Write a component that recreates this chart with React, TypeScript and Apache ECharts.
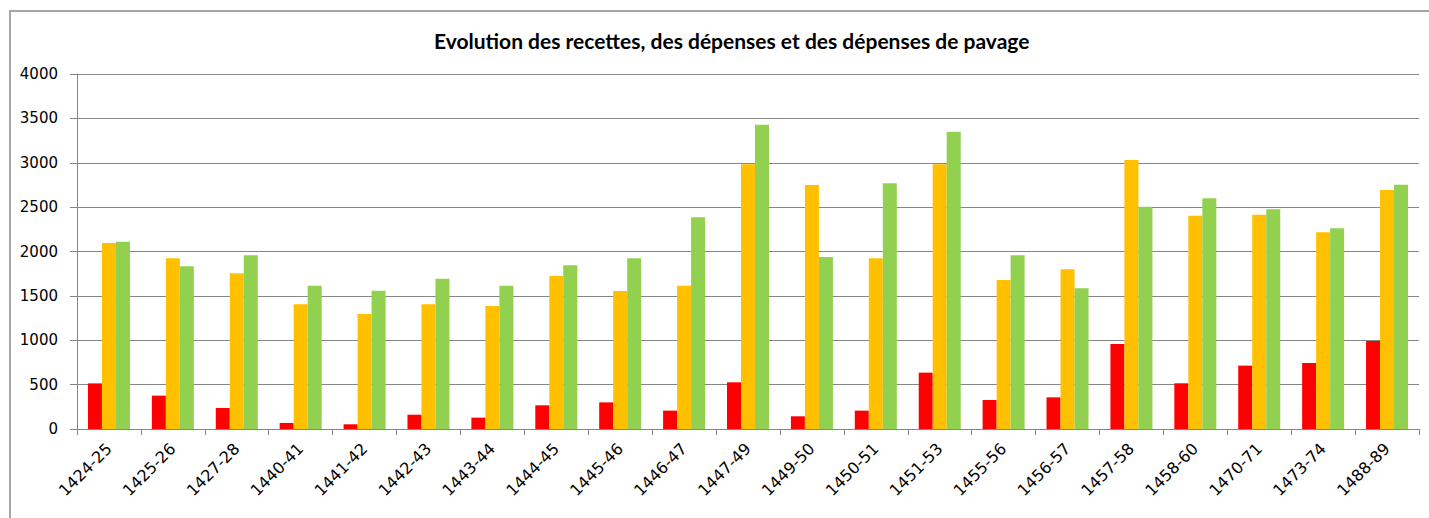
import React, { useEffect, useRef } from "react";
import * as echarts from "echarts";

const categories = [
  "1424-25", "1425-26", "1427-28", "1440-41", "1441-42", "1442-43", "1443-44",
  "1444-45", "1445-46", "1446-47", "1447-49", "1449-50", "1450-51", "1451-53",
  "1455-56", "1456-57", "1457-58", "1458-60", "1470-71", "1473-74", "1488-89",
];
const pavage = [514, 376, 237, 68, 53, 161, 128, 267, 300, 207, 526, 143, 207, 635, 327, 357, 958, 515, 714, 744, 992];
const recettes = [2096, 1923, 1754, 1405, 1296, 1405, 1386, 1724, 1555, 1615, 2982, 2749, 1923, 2982, 1679, 1799, 3031, 2404, 2415, 2216, 2693];
const depenses = [2111, 1833, 1957, 1615, 1559, 1694, 1615, 1844, 1923, 2385, 3429, 1938, 2768, 3350, 1957, 1585, 2505, 2599, 2475, 2261, 2753];
const yTicks = { min: 0, max: 4000, interval: 500 };
const title = "Evolution des recettes, des dépenses et des dépenses de pavage";

export default function App() {
  const ref = useRef<HTMLDivElement>(null);
  useEffect(() => {
    if (!ref.current) return;
    const chart = echarts.init(ref.current, null, { renderer: "svg" });
    const bar = (name: string, data: number[], color: string) => ({
      name,
      type: "bar",
      data,
      barWidth: 14,
      barGap: "0%",
      itemStyle: { color },
    });
    chart.setOption({
      animation: false,
      backgroundColor: "#ffffff",
      title: {
        text: title,
        left: 429,
        top: 25,
        textStyle: { fontFamily: "Lato", fontWeight: "bold", fontSize: 21, color: "#000" },
      },
      graphic: [
        {
          type: "rect",
          shape: { x: 10, y: 11, width: 1440, height: 540 },
          style: { fill: "none", stroke: "#a6a6a6", lineWidth: 2 },
          silent: true,
        },
      ],
      grid: { left: 77, right: 10, top: 74, bottom: 89, containLabel: false },
      xAxis: {
        type: "category",
        data: categories,
        axisLine: { lineStyle: { color: "#868686", width: 1 } },
        axisTick: { show: true, length: 6, lineStyle: { color: "#868686" } },
        axisLabel: {
          rotate: 45,
          fontFamily: "DejaVu Sans",
          fontSize: 16,
          color: "#000",
          margin: 17,
        },
      },
      yAxis: {
        type: "value",
        min: yTicks.min,
        max: yTicks.max,
        interval: yTicks.interval,
        axisLine: { show: true, lineStyle: { color: "#868686" } },
        axisTick: { show: true, length: 7, lineStyle: { color: "#868686" } },
        splitLine: { lineStyle: { color: "#868686", width: 1 } },
        axisLabel: {
          fontFamily: "DejaVu Sans",
          fontSize: 15,
          color: "#000",
          margin: 19,
          formatter: (v: number) => String(v),
        },
      },
      series: [
        bar("Dépenses de pavage", pavage, "#ff0000"),
        bar("Recettes", recettes, "#ffc000"),
        bar("Dépenses", depenses, "#92d050"),
      ],
    });
    return () => chart.dispose();
  }, []);
  return (
    <div
      ref={ref}
      style={{ position: "absolute", left: 0, top: 0, width: 1429, height: 518 }}
    />
  );
}
